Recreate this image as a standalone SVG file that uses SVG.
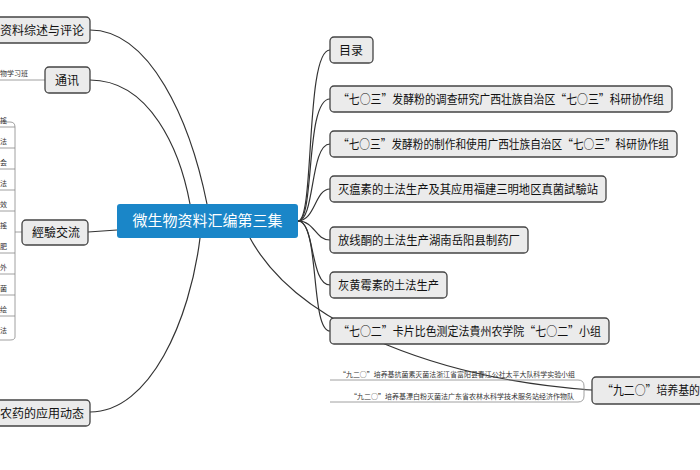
<svg xmlns="http://www.w3.org/2000/svg" width="700" height="470" viewBox="0 0 700 470">
<style>
.n rect{fill:#ebebeb;stroke:#444;stroke-width:1.3}
.t{font-family:"Noto Sans CJK SC","Liberation Sans",sans-serif;font-size:12px;fill:#111}
.s{font-family:"Noto Sans CJK SC","Liberation Sans",sans-serif;font-size:7px;fill:#333}
.c path{fill:none;stroke:#333;stroke-width:1.2}
.c .l{stroke:#888;stroke-width:0.8}
</style>
<rect width="700" height="470" fill="#fff"/>
<g class="c">
<path d="M90,30 C150,30 190,120 207,204"/>
<path d="M90,80 C150,80 180,150 190,204"/>
<path d="M88,232 L117,230"/>
<path d="M90,412 C150,412 190,320 200,238"/>
<path d="M298,221 C315,221 305,50 330,50"/>
<path d="M298,221 C315,221 305,99 330,99"/>
<path d="M298,221 C315,221 310,144 330,144"/>
<path d="M298,221 C315,221 315,189 330,189"/>
<path d="M298,221 C315,221 315,240 330,240"/>
<path d="M298,221 C315,221 310,285 330,285"/>
<path d="M298,221 C320,221 310,331 330,331"/>
<path d="M250,238 C300,330 450,380 592,390"/>
<path class="l" d="M0,80 L45,80"/>
<path class="l" d="M22,232 L15,232 M15,127 L15,337 M15,127 Q15,122 10,122 L0,122 M15,337 Q15,340 10,340 L0,340"/>
<path class="l" d="M0,127 H15 M0,148 H15 M0,169 H15 M0,190 H15 M0,211 H15 M0,253 H15 M0,274 H15 M0,295 H15 M0,316 H15"/>
<path class="l" d="M330,380 H578 Q584,380 584,386 L584,390 L592,390 M330,402 H578 Q584,402 584,396 L584,390"/>
</g>
<g id="center"><rect x="117" y="204" width="181" height="34" rx="3" fill="#1a86c8"/><text x="207.5" y="226" text-anchor="middle" font-family="Noto Sans CJK SC,sans-serif" font-size="15" fill="#fff">微生物资料汇编第三集</text></g>
<g id="n1" class="n"><rect x="-6" y="17" width="96" height="26" rx="4"/><text class="t" x="0" y="35">资料综述与评论</text></g>
<g id="n2" class="n"><rect x="45" y="67" width="45" height="26" rx="4"/><text class="t" x="55" y="85">通讯</text></g>
<text class="s" x="0" y="76">物学习班</text>
<g id="n3" class="n"><rect x="22" y="220" width="66" height="25" rx="4"/><text class="t" x="32" y="237">經驗交流</text></g>
<g><text class="s" x="0" y="123">搖</text><text class="s" x="0" y="144">法</text><text class="s" x="0" y="165">会</text><text class="s" x="0" y="186">法</text><text class="s" x="0" y="207">效</text><text class="s" x="0" y="228">搖</text><text class="s" x="0" y="249">肥</text><text class="s" x="0" y="270">外</text><text class="s" x="0" y="291">菌</text><text class="s" x="0" y="312">绘</text><text class="s" x="0" y="333">法</text></g>
<g id="n4" class="n"><rect x="-6" y="400" width="96" height="26" rx="4"/><text class="t" x="0" y="418">农药的应用动态</text></g>
<g id="r1" class="n"><rect x="330" y="37" width="43" height="26" rx="4"/><text class="t" x="339" y="55">目录</text></g>
<g id="r2" class="n"><rect x="330" y="86" width="342" height="26" rx="4"/><text class="t" x="338" y="104" textLength="326" lengthAdjust="spacingAndGlyphs">“七○三”发酵粉的调查研究广西壮族自治区“七○三”科研协作组</text></g>
<g id="r3" class="n"><rect x="330" y="131" width="347" height="26" rx="4"/><text class="t" x="338" y="149" textLength="331" lengthAdjust="spacingAndGlyphs">“七○三”发酵粉的制作和使用广西壮族自治区“七○三”科研协作组</text></g>
<g id="r4" class="n"><rect x="330" y="176" width="276" height="26" rx="4"/><text class="t" x="338" y="194" textLength="260" lengthAdjust="spacingAndGlyphs">灭瘟素的土法生产及其应用福建三明地区真菌試驗站</text></g>
<g id="r5" class="n"><rect x="330" y="227" width="198" height="26" rx="4"/><text class="t" x="338" y="245" textLength="182" lengthAdjust="spacingAndGlyphs">放线酮的土法生产湖南岳阳县制药厂</text></g>
<g id="r6" class="n"><rect x="330" y="272" width="117" height="26" rx="4"/><text class="t" x="338" y="290" textLength="101" lengthAdjust="spacingAndGlyphs">灰黄霉素的土法生产</text></g>
<g id="r7" class="n"><rect x="330" y="318" width="279" height="26" rx="4"/><text class="t" x="338" y="336" textLength="263" lengthAdjust="spacingAndGlyphs">“七○二”卡片比色测定法貴州农学院“七○二”小组</text></g>
<g id="r8" class="n"><rect x="592" y="377" width="120" height="27" rx="4"/><text class="t" x="602" y="395" textLength="98" lengthAdjust="spacingAndGlyphs">“九二○”培养基的</text></g>
<text class="s" x="339" y="377" textLength="236" lengthAdjust="spacingAndGlyphs">“九二○”培养基抗菌素灭菌法浙江省富阳县春江公社太平大队科学实验小组</text>
<text class="s" x="350" y="399" textLength="224" lengthAdjust="spacingAndGlyphs">“九二○”培养基漂白粉灭菌法广东省农林水科学技术服务站经济作物队</text>
</svg>
